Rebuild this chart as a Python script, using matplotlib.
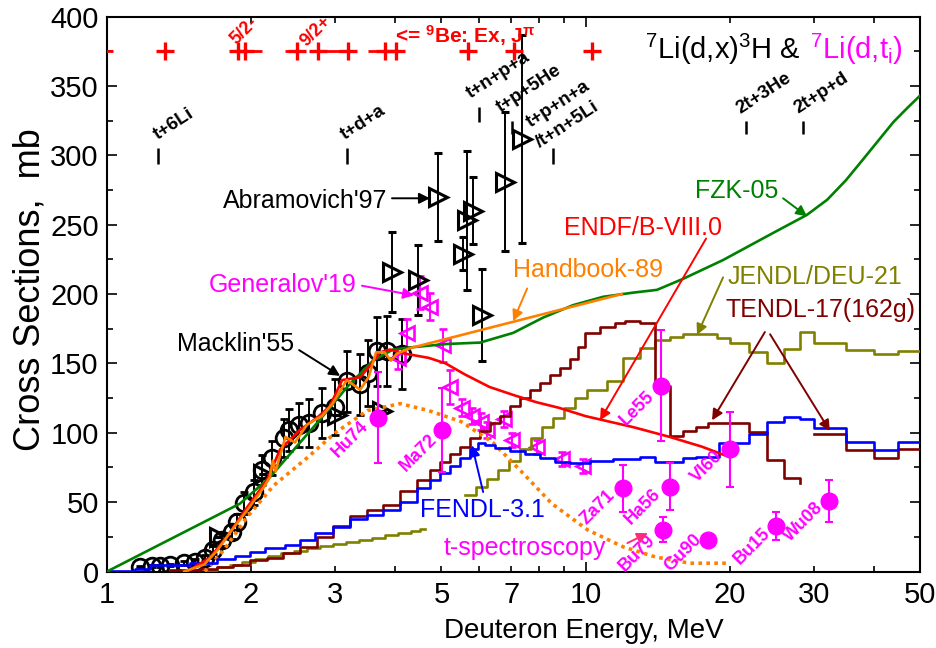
import numpy as np
import matplotlib
matplotlib.use('Agg')
import matplotlib.pyplot as plt
from matplotlib.ticker import FixedLocator, FixedFormatter

plt.rcParams['font.family'] = ['Liberation Sans', 'DejaVu Sans']
plt.rcParams['mathtext.fontset'] = 'custom'
plt.rcParams['mathtext.rm'] = 'Liberation Sans'
plt.rcParams['mathtext.it'] = 'Liberation Sans:italic'
plt.rcParams['mathtext.bf'] = 'Liberation Sans:bold'

# ---------------- data ----------------
# 9Be levels
be9_E = [0.90, 1.32, 1.88, 1.94, 2.50, 2.76, 3.19, 3.81, 4.02, 5.68, 7.09, 10.3]
be9_lo = [0.13, 0, 0.07, 0, 0.145, 0, 0, 0.30, 0, 0, 0, 0]
be9_hi = [0.13, 0, 0, 0.17, 0, 0.31, 0, 0, 0, 0, 0, 0]
be9_y = 375

# reaction thresholds
thr_E = [1.278, 3.176, 6.0, 7.03, 8.55, 21.6, 28.5]
thr_lo = [294, 294, 324, 315, 294, 315, 315]
thr_hi = [305, 305, 335, 325, 305, 325, 325]
thr_labels = ['t+6Li', 't+d+a', 't+n+p+a', 't+p+5He', 't+p+n+a', '/t+n+5Li', '2t+3He', '2t+p+d']
thr_lab_E = [1.278, 3.145, 5.74, 6.63, 7.66, 8.03, 21.03, 27.8]
thr_lab_s = [311, 311, 341, 331, 319.6, 305, 330, 330]

# Macklin'55
mk_E = [1.172, 1.242, 1.291, 1.354, 1.448, 1.527, 1.603, 1.665, 1.739, 1.825, 1.869, 1.933, 2.029,
        2.109, 2.212, 2.344, 2.401, 2.519, 2.644, 2.814, 2.996, 3.174, 3.379, 3.512, 3.667, 3.847, 4.136]
mk_s = [3.2, 4.0, 4.0, 4.7, 6.1, 6.8, 9.7, 15.5, 22.7, 28.5, 35.7, 49.4, 57.3,
        73.2, 81.8, 96.2, 102, 105.6, 107, 114, 118.6, 137, 135, 143, 158.7, 159, 156.8]
mk_err = [1, 1, 1, 1, 1.5, 2, 2, 3, 4, 5, 6, 8, 9,
          11, 12, 14, 15, 16, 17, 18, 20, 22, 22, 24, 25, 25, 25]

# Abramovich'97
ab_E = [1.71, 2.12, 3.02, 3.75, 3.94, 4.47, 4.92, 5.55, 5.65, 5.83, 6.08, 6.78, 7.37]
ab_s = [25, 70, 113, 116, 216, 210, 270, 229, 253, 260, 185, 281, 312]
ab_err = [0, 0, 0, 0, 29, 25, 32, 12, 50, 24, 33, 50, 75]

# Generalov'19
ge_E = [4.057, 4.236, 4.51, 4.732, 5.038, 5.21, 5.52, 5.79, 6.05, 6.23, 6.75, 7.02, 7.92, 8.93, 9.88]
ge_s = [154, 172, 201, 191, 163, 133, 118, 112, 108, 102, 110, 95, 90, 81, 76]
ge_err = [8, 10, 12, 10, 12, 12, 6, 6, 6, 6, 6, 5, 5, 5, 5]

# t-spectroscopy points
ts_names = ['Hu74', 'Ma72', 'Le55', 'Za71', 'Ha56', 'Bu79', 'Gu90', 'Vl60', 'Bu15', 'Wu08']
ts_E = [3.68, 5.01, 14.4, 11.97, 15.0, 14.5, 18.0, 20.0, 25.0, 32.2]
ts_s = [111, 102, 134, 60, 61, 30, 23, 88, 33, 51]
ts_err = [33, 30, 40, 17, 17, 9, 4, 27, 10, 15]
ts_lab_E = [3.22, 4.47, 12.81, 10.62, 13.19, 12.81, 16.0, 17.94, 22.28, 28.5]
ts_lab_s = [95.2, 85.4, 117.8, 46.5, 46.5, 13.3, 13.3, 75.3, 18.4, 35.7]

# t-spectroscopy curve (dotted)
tsc_E = [1.60, 1.75, 1.96, 2.23, 2.62, 3.0, 3.5, 4.1, 4.7, 5.5, 6.4, 7.3, 8.5, 10.1, 12.0, 14.0, 16.5, 20.0]
tsc_s = [0, 15, 39, 62, 82, 100, 116, 121, 116, 108, 93, 73, 49, 30, 17.7, 10.5, 6, 6]

# FZK-05
fzk_E = [1.0, 1.897, 2.19, 2.747, 3.176, 3.596, 3.96, 4.297, 5.135, 6.02, 7.06, 8.15, 9.42, 10.88,
         12.57, 14.1, 16.0, 19.38, 24.65, 29.0, 32.0, 35.0, 38.0, 41.0, 44.0, 47.0, 50.0]
fzk_s = [0, 49, 68, 107, 133, 152, 160, 161.5, 164, 165, 172, 183, 192, 198,
         201, 203, 211, 224.5, 244, 257, 268, 282, 297, 311, 324, 334, 343]

# ENDF/B-VIII.0
endf_E = [1.47, 1.64, 1.78, 1.96, 2.16, 2.30, 2.53, 2.75, 2.92, 3.10, 3.38, 3.52, 3.72, 3.90,
          4.2, 4.7, 5.1, 5.6, 6.3, 7.1, 7.9, 8.8, 10.0, 12.6, 15.0, 17.5, 20.0]
endf_s = [0, 10, 25, 46, 66, 88, 102, 111, 119, 138, 140, 147, 158, 160,
          157, 154, 150, 142, 133, 127, 122, 118, 112, 104, 97, 90, 82.5]

# Handbook-89
hb_E = [1.45, 1.595, 1.698, 1.843, 1.961, 2.129, 2.19, 2.22, 2.25, 2.36, 2.47, 2.62, 2.81, 2.96,
        3.17, 3.38, 3.52, 3.65, 3.80, 3.92, 4.03, 4.3, 11.9]
hb_s = [0, 5, 15, 32, 44, 61, 68, 80, 72, 97, 93, 106, 112, 121,
        138, 131, 140, 158, 158, 152, 157, 161, 200]

# FENDL-3.1 (steps)
fe_E = [1.0, 1.144, 1.23, 1.49, 1.70, 1.85, 1.99, 2.14, 2.36, 2.53, 2.72, 2.97, 3.22, 3.49, 3.77,
        4.09, 4.44, 4.73, 4.97, 5.21, 5.47, 5.74, 5.96, 6.17, 6.47, 6.95, 7.47, 8.03, 8.63, 9.27,
        10.2, 11.4, 13.0, 14.0, 16.0, 17.0, 19.0, 22.0, 24.0, 26.0, 28.0, 30.0, 35.0, 40.0, 45.0, 50.0]
fe_s = [0.5, 2, 5, 6, 9, 11, 14, 17, 19, 23, 28, 32, 38, 41, 44,
        50, 60, 66, 71, 76, 82, 88, 92.6, 91, 89, 87, 85, 82, 79, 78,
        80, 81, 82.7, 79.1, 81.6, 82.7, 92.5, 99, 107.7, 111.6, 109.9, 103.2, 93, 87.6, 93.6, 93.6]

# TENDL-17 (steps), two pieces
te1_E = [1.354, 1.564, 1.698, 1.833, 1.991, 2.160, 2.333, 2.530, 2.747, 2.965, 3.218, 3.493, 3.776,
         4.093, 4.443, 4.73, 4.97, 5.21, 5.47, 5.74, 6.02, 6.32, 6.63, 6.95, 7.30, 7.66, 8.03, 8.43,
         8.84, 9.27, 9.64, 9.97, 10.7, 11.5, 12.1, 13.0, 14.0, 15.0, 16.0, 17.0, 18.0, 22.0, 24.0,
         26.0, 28.0]
te1_s = [1, 2, 3, 5, 8, 10, 13, 18, 25, 33, 40, 44, 48,
         58, 66, 73, 79, 85, 90, 96, 101, 107, 112, 119, 125, 131, 136, 142,
         147, 153, 162, 172, 176, 179, 180.5, 179, 134, 98, 101, 104.5, 107.3, 100.3, 80.4,
         67.2, 63.5]
te2_E = [30.0, 35.0, 40.0, 45.0, 50.0]
te2_s = [98.9, 87.6, 82.0, 88.3, 88.3]

# JENDL/DEU-21 (steps), two pieces
je1_E = [1.618, 1.698, 1.808, 1.914, 2.039, 2.170, 2.31, 2.459, 2.618, 2.787, 2.967, 3.158,
         3.362, 3.579, 3.811, 4.057, 4.318, 4.51, 4.62]
je1_s = [1, 3, 5, 7, 9, 11, 13, 15, 17, 18.5, 20, 21.5, 23, 24.5, 26, 27.5, 29, 31, 31]
je2_E = [5.60, 5.90, 6.23, 6.56, 6.92, 7.30, 7.69, 8.11, 8.55, 9.02, 9.51, 10.07, 11.09, 11.98,
         13.0, 14.0, 15.0, 16.0, 18.8, 20.0, 22.0, 24.0, 26.0, 28.0, 30.0, 35.0, 40.0, 45.0, 50.0]
je2_s = [55, 61, 67, 73, 80, 88, 96, 104, 111, 118, 125, 131, 137, 154,
         161, 166.8, 168.8, 171.2, 168, 164.9, 158.4, 150.5, 160.1, 172.8, 164.9, 159.6, 156.8, 158.9, 158.9]

# ---------------- figure ----------------
fig = plt.figure(figsize=(9.37, 6.48), dpi=100)
ax = fig.add_axes([0.1142, 0.118, 0.8677, 0.8565])
ax.set_xscale('log')

C_GREEN = '#008000'
C_RED = '#ff0000'
C_ORANGE = '#ff8000'
C_BLUE = '#0000ff'
C_OLIVE = '#808000'
C_MAROON = '#800000'
C_MAG = '#ff00ff'

LW = 1.9

# step curves
ax.step(je1_E, je1_s, where='post', color=C_OLIVE, lw=LW, zorder=3)
ax.step(je2_E, je2_s, where='post', color=C_OLIVE, lw=LW, zorder=3)
ax.step(te1_E, te1_s, where='post', color=C_MAROON, lw=LW, zorder=3)
ax.step(te2_E, te2_s, where='post', color=C_MAROON, lw=LW, zorder=3)
ax.step(fe_E, fe_s, where='post', color=C_BLUE, lw=LW, zorder=3.2)

# t-spectroscopy curve
ax.plot(tsc_E, tsc_s, color=C_ORANGE, lw=2.6, ls=(0, (1, 1.2)), zorder=3)

# data points
ax.errorbar(mk_E, mk_s, yerr=mk_err, fmt='o', ms=12, mfc='none', mec='black', mew=2.0,
            ecolor='black', elinewidth=1.4, capsize=3, capthick=1.4, zorder=2)
ax.errorbar(ab_E, ab_s, yerr=ab_err, fmt='>', ms=13, mfc='none', mec='black', mew=2.2,
            ecolor='black', elinewidth=1.4, capsize=3, capthick=1.4, zorder=2)
ax.errorbar(ge_E, ge_s, yerr=ge_err, fmt='<', ms=10, mfc='none', mec=C_MAG, mew=1.9,
            ecolor=C_MAG, elinewidth=1.4, capsize=3, capthick=1.4, zorder=2)

# evaluated smooth curves
ax.plot(fzk_E, fzk_s, color=C_GREEN, lw=LW, zorder=4)
ax.plot(endf_E, endf_s, color=C_RED, lw=LW, zorder=4.2)
ax.plot(hb_E, hb_s, color=C_ORANGE, lw=LW, zorder=4.4)

# t-spectroscopy points
ax.errorbar(ts_E, ts_s, yerr=ts_err, fmt='o', ms=12, mfc=C_MAG, mec=C_MAG,
            ecolor=C_MAG, elinewidth=1.5, capsize=3, capthick=1.5, zorder=5)
for n, e, s in zip(ts_names, ts_lab_E, ts_lab_s):
    ax.text(e, s, n, color=C_MAG, fontsize=13, fontweight='bold', rotation=45,
            ha='center', va='center', zorder=6)

# 9Be levels
ax.errorbar(be9_E, [be9_y] * len(be9_E), xerr=[be9_lo, be9_hi], fmt='+', ms=13, mew=2.4,
            color=C_RED, ecolor=C_RED, elinewidth=2.0, capsize=0, zorder=5)
ax.text(1.933, 389.5, '5/2-', color=C_RED, fontsize=13, fontweight='bold', rotation=45,
        ha='center', va='center', clip_on=False)
ax.text(2.734, 389.5, '9/2+', color=C_RED, fontsize=13, fontweight='bold', rotation=45,
        ha='center', va='center', clip_on=False)
ax.text(4.0, 386.5, r'<= $\mathbf{^{9}}$Be: Ex, J$\mathbf{^{\pi}}$', color=C_RED, fontsize=15,
        fontweight='bold', ha='left', va='center')

# thresholds
ax.vlines(thr_E, thr_lo, thr_hi, color='black', lw=1.8, zorder=5)
for t, e, s in zip(thr_labels, thr_lab_E, thr_lab_s):
    ax.text(e, s, t, fontsize=13.5, fontweight='bold', rotation=33, rotation_mode='anchor',
            ha='left', va='baseline', color='black', zorder=6)

# title
ax.text(0.662, 0.94, r'$^{7}$Li(d,x)$^{3}$H &', transform=ax.transAxes, fontsize=21,
        ha='left', va='center', color='black')
ax.text(0.979, 0.94, r'$^{7}$Li(d,t$_{\mathrm{i}}$)', transform=ax.transAxes, fontsize=21,
        ha='right', va='center', color=C_MAG)

# legend-like annotations
FS = 18


def arrow(tail, head, color):
    ax.annotate('', xy=head, xytext=tail,
                arrowprops=dict(arrowstyle='-|>', color=color, lw=1.4,
                                mutation_scale=16, shrinkA=0, shrinkB=0), zorder=7)


ax.text(2.593, 266.8, "Abramovich'97", fontsize=FS, ha='center', va='center', color='black')
arrow((3.94, 269), (4.73, 269), 'black')
ax.text(2.332, 206.3, "Generalov'19", fontsize=FS, ha='center', va='center', color=C_MAG)
arrow((3.41, 206), (4.38, 199), C_MAG)
ax.text(1.86, 164, "Macklin'55", fontsize=FS, ha='center', va='center', color='black')
arrow((2.52, 159.6), (3.07, 141), 'black')
ax.text(10.12, 217, 'Handbook-89', fontsize=FS, ha='center', va='center', color=C_ORANGE)
arrow((7.55, 204), (7.06, 180.5), C_ORANGE)
ax.text(13.19, 247.6, 'ENDF/B-VIII.0', fontsize=FS, ha='center', va='center', color=C_RED)
arrow((17.86, 240), (10.72, 109), C_RED)
ax.text(20.73, 274, 'FZK-05', fontsize=FS, ha='center', va='center', color=C_GREEN)
arrow((25.87, 269), (29.03, 256), C_GREEN)
ax.text(30.17, 212, 'JENDL/DEU-21', fontsize=FS, ha='center', va='center', color=C_OLIVE)
arrow((19.38, 212), (17.1, 170.5), C_OLIVE)
ax.text(30.9, 188.5, 'TENDL-17(162g)', fontsize=FS, ha='center', va='center', color=C_MAROON)
arrow((23.7, 172.6), (18.38, 109), C_MAROON)
arrow((24.3, 171), (32.4, 101.3), C_MAROON)
ax.text(6.08, 44.3, 'FENDL-3.1', fontsize=FS, ha='center', va='center', color=C_BLUE)
arrow((6.11, 57.3), (5.79, 91), C_BLUE)
ax.text(7.47, 17, 't-spectroscopy', fontsize=FS, ha='center', va='center', color=C_MAG)
arrow((12.23, 20.5), (13.5, 27.7), '#ff2a7f')

# axes setup
ax.set_xlim(1, 50)
ax.set_ylim(0, 400)
ax.xaxis.set_major_locator(FixedLocator([1, 10]))
ax.xaxis.set_major_formatter(FixedFormatter(['1', '10']))
minor_x = [2, 3, 4, 5, 6, 7, 8, 9, 20, 30, 40, 50]
ax.xaxis.set_minor_locator(FixedLocator(minor_x))
ax.xaxis.set_minor_formatter(FixedFormatter(['2', '3', '', '5', '', '7', '', '', '20', '30', '', '50']))
ax.yaxis.set_major_locator(FixedLocator(np.arange(0, 401, 50)))
ax.yaxis.set_minor_locator(FixedLocator(np.arange(0, 401, 25)))
ax.tick_params(which='both', direction='in', top=True, right=True, labelsize=21, width=1.2)
ax.tick_params(which='major', length=7)
ax.tick_params(which='minor', length=4)
ax.tick_params(axis='x', which='both', pad=7)
ax.tick_params(axis='y', which='both', pad=6)
for sp in ax.spines.values():
    sp.set_linewidth(1.5)

fig.text(584 / 937, 1 - 631 / 648, 'Deuteron Energy, MeV', fontsize=20, ha='center', va='center')
fig.text(30 / 937, 1 - 290 / 648, 'Cross Sections,  mb', fontsize=26, rotation=90,
         ha='center', va='center')

fig.savefig('out.png', dpi=100)
